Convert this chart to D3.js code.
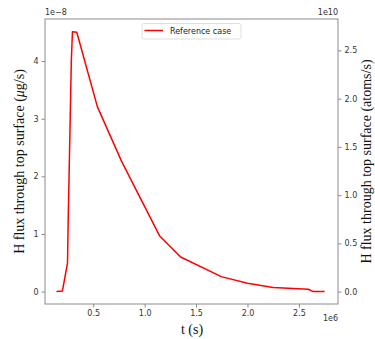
<!DOCTYPE html>
<html><head><meta charset="utf-8">
<script src="https://cdn.jsdelivr.net/npm/d3@7"></script>
<style>body{margin:0;background:#fff}svg{display:block}</style>
</head><body>
<svg id="c" width="375" height="339"></svg>
<script>
const time = [0.143,0.2,0.25,0.256,0.265,0.276,0.287,0.298,0.34,0.54,0.776,1.144,1.35,1.745,2.0,2.25,2.59,2.64,2.75]; // x 1e6 s
const fluxUg = [0,0.01,0.5,1.2,2.0,3.0,4.0,4.51,4.5,3.21,2.26,0.97,0.6,0.26,0.145,0.07,0.04,0,0]; // x 1e-8 µg/s
const xTicks = [0.5,1.0,1.5,2.0,2.5];
const yTicks = [0,1,2,3,4];
const y2Ticks = [0.0,0.5,1.0,1.5,2.0,2.5];
const convFactor = 0.5974; // 1e-8 µg/s -> 1e10 atoms/s
const seriesName = "Reference case";

const svg = d3.select("#c");
const L=45, R=338, T=19, B=304;
const x = d3.scaleLinear().domain([0.031,2.88]).range([L,R]);
const y = d3.scaleLinear().domain([-0.215,4.73]).range([B,T]);
const y2 = d3.scaleLinear().domain(y.domain().map(v=>v*convFactor)).range([B,T]);

const spine="#8c8c8c", tickCol="#555", labCol="#333";
function style(g){
  g.selectAll(".domain").remove();
  g.selectAll("line").attr("stroke",spine);
  g.selectAll("text").attr("fill",labCol).style("font-family","DejaVu Sans").style("font-size","8px");
}
svg.append("g").attr("transform",`translate(0,${B})`)
  .call(d3.axisBottom(x).tickValues(xTicks).tickFormat(d3.format(".1f")).tickSize(3.5).tickPadding(3)).call(style);
svg.append("g").attr("transform",`translate(${L},0)`)
  .call(d3.axisLeft(y).tickValues(yTicks).tickFormat(d3.format("d")).tickSize(3.5).tickPadding(3)).call(style);
svg.append("g").attr("transform",`translate(${R},0)`)
  .call(d3.axisRight(y2).tickValues(y2Ticks).tickFormat(d3.format(".1f")).tickSize(3.5).tickPadding(3)).call(style);

svg.append("rect").attr("x",L).attr("y",T).attr("width",R-L).attr("height",B-T)
  .attr("fill","none").attr("stroke",spine).attr("stroke-width",1);

const data = time.map((t,i)=>({t,v:fluxUg[i]}));
svg.append("path").datum(data)
  .attr("d",d3.line().x(d=>x(d.t)).y(d=>y(d.v)))
  .attr("fill","none").attr("stroke","#ff0000").attr("stroke-width",1.5).attr("stroke-linejoin","round");

// legend
const lg = svg.append("g");
lg.append("rect").attr("x",142).attr("y",23.5).attr("width",99).attr("height",15.5).attr("rx",2)
  .attr("fill","#fff").attr("stroke","#d6d6d6").attr("stroke-width",0.8);
lg.append("line").attr("x1",144.5).attr("x2",163).attr("y1",30.5).attr("y2",30.5).attr("stroke","#ff0000").attr("stroke-width",1.5);
lg.append("text").attr("x",170).attr("y",34).text(seriesName)
  .attr("fill","#222").style("font-family","DejaVu Sans").style("font-size","8px");

// offset texts
const off = (tx,ty,txt,anchor)=>svg.append("text").attr("x",tx).attr("y",ty).attr("text-anchor",anchor)
  .attr("fill",labCol).style("font-family","DejaVu Sans").style("font-size","8px").text(txt);
off(L,15,"1e\u22128","start");
off(R,15,"1e10","end");
off(R,321,"1e6","end");

// axis labels
const serif="Liberation Serif";
svg.append("text").attr("x",192).attr("y",334).attr("text-anchor","middle")
  .style("font-family",serif).style("font-size","14px").attr("fill","#111").text("t (s)");
const yl = svg.append("text").attr("transform",`translate(24,${(T+B)/2}) rotate(-90)`).attr("text-anchor","middle")
  .style("font-family",serif).style("font-size","14px").attr("fill","#111");
yl.append("tspan").text("H flux through top surface (");
yl.append("tspan").style("font-style","italic").text("\u03bc");
yl.append("tspan").text("g/s)");
svg.append("text").attr("transform",`translate(371,${(T+B)/2}) rotate(-90)`).attr("text-anchor","middle")
  .style("font-family",serif).style("font-size","14px").attr("fill","#111").text("H flux through top surface (atoms/s)");
</script>
</body></html>
